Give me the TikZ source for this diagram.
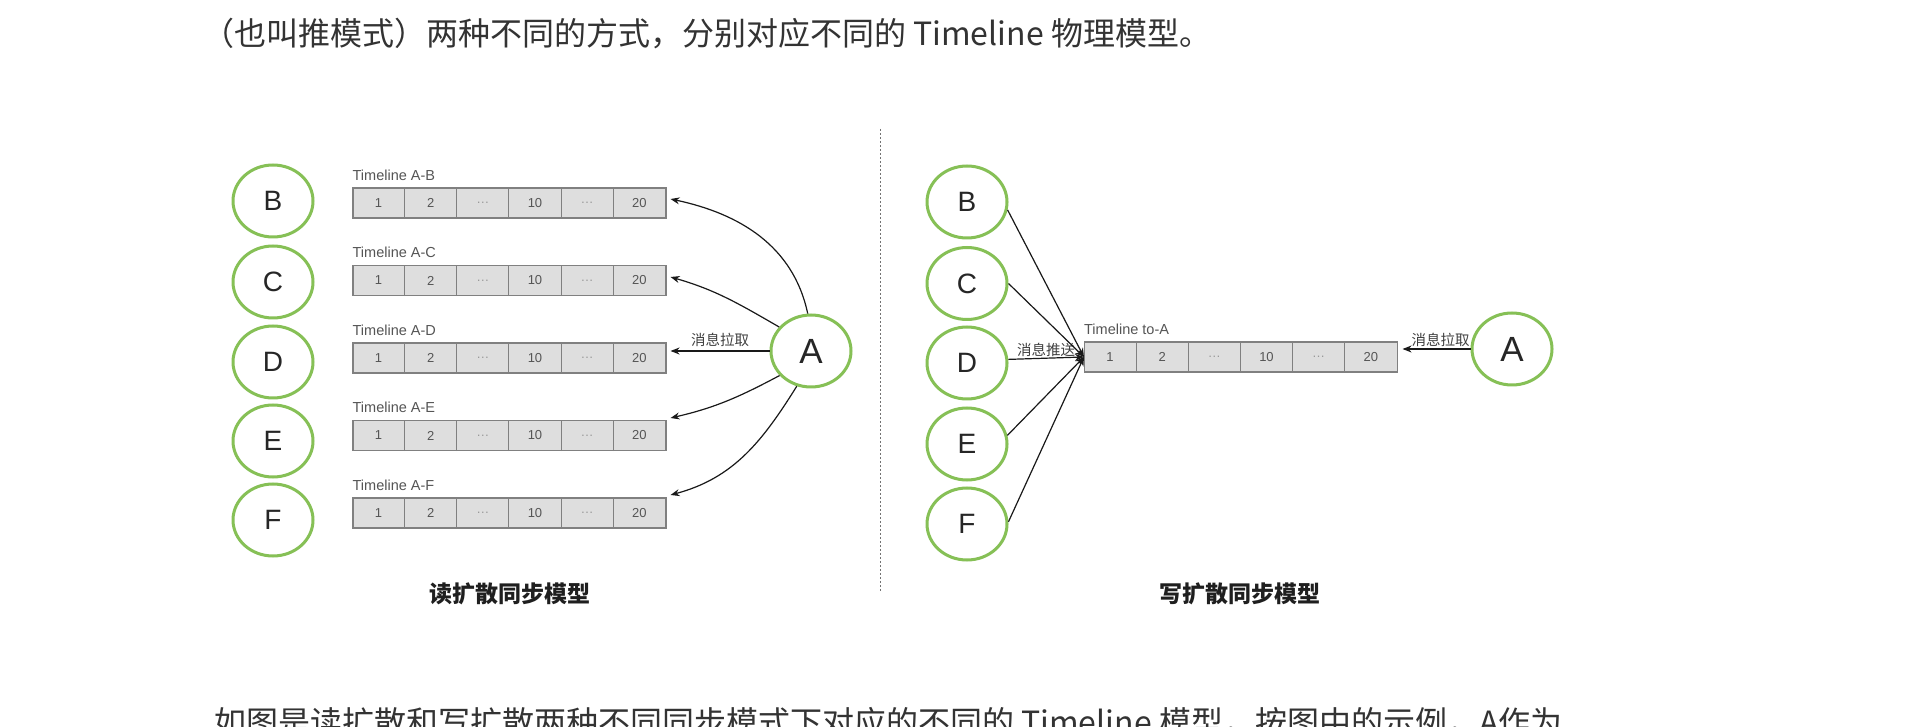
\documentclass[tikz,border=0pt]{standalone}
\usepackage{fontspec}
\setmainfont{Liberation Sans}
\newfontfamily\cjk{Noto Sans CJK SC}
\usetikzlibrary{arrows.meta,calc,shapes.geometric}
\definecolor{ringgreen}{RGB}{134,192,86}
\definecolor{cellfill}{RGB}{222,222,222}
\definecolor{celledge}{RGB}{128,128,128}
\definecolor{celltxt}{RGB}{85,85,85}
\definecolor{bodytxt}{RGB}{51,51,51}
\newcommand\timeline[4]{%
  \node[tlbox] (#1) at (#2,#3) {};
  \foreach \i/\t in {1/1,2/2,3/{\color{gray!80}…},4/10,5/{\color{gray!80}…},6/20}{
    \node[celltext] (#1-\i) at ($(#1.west)+({(\i-0.5)*52.15},0)$) {\t};
  }
  \foreach \i in {1,...,5}{
    \draw[celldiv] ($(#1.south west)+({\i*52.15},0)$) -- ($(#1.north west)+({\i*52.15},0)$);
  }
  \node[tllabel] (#1-lab) at ($(#1.north west)+(0,7)$) {#4};
}
\begin{document}
\begin{tikzpicture}[x=1pt,y=1pt,
  ring/.style={ellipse, draw=ringgreen, line width=3pt, fill=white,
    minimum width=80pt, minimum height=72pt, inner sep=0pt,
    font=\fontsize{28}{30}\selectfont, text=black!85},
  bigring/.style={ring, font=\fontsize{35}{38}\selectfont},
  tlbox/.style={draw=celledge, fill=cellfill, line width=1.1pt,
    minimum width=313pt, minimum height=30pt, inner sep=0pt},
  celltext/.style={font=\fontsize{13}{15}\selectfont, text=celltxt, inner sep=0pt},
  celldiv/.style={draw=celledge, line width=1.1pt},
  tllabel/.style={anchor=base west, inner sep=0pt, font=\fontsize{14.5}{16}\selectfont, text=celltxt},
  arr/.style={draw=black!90, line width=1.2pt, -{Stealth[length=9pt,width=7pt]}},
  msg/.style={anchor=base, inner sep=0pt, font=\cjk\fontsize{14.5}{16}\selectfont, text=black!75},
  title/.style={inner sep=0pt, font=\cjk\bfseries\fontsize{23}{25}\selectfont, text=black!88},
  body/.style={anchor=base west, inner sep=0pt, font=\cjk\fontsize{32}{38}\selectfont, text=bodytxt},
  sep/.style={draw=black!55, line width=0.9pt, dash pattern=on 2pt off 2pt}
]
\clip (0,0) rectangle (1922,726);
\fill[white] (0,0) rectangle (1922,726);

% body text
\node[body] (toptext) at (202,680) {（也叫推模式）两种不同的方式，分别对应不同的 Timeline 物理模型。};
\node[body] (bottext) at (214,-8.5) {如图是读扩散和写扩散两种不同同步模式下对应的不同的 Timeline 模型，按图中的示例，A作为};

% separator
\coordinate (dtop) at (880,597);
\coordinate (dbot) at (880,134);
\draw[sep] (dtop) -- (dbot);

% ---------- left: read diffusion ----------
\node[ring] (lB) at (273,525) {B};
\node[ring] (lC) at (273,444) {C};
\node[ring] (lD) at (273,364) {D};
\node[ring] (lE) at (273,285) {E};
\node[ring] (lF) at (273,206) {F};
\node[bigring] (lA) at (811,375) {A};

\timeline{bB}{509.5}{523}{Timeline A-B}
\timeline{bC}{509.5}{445.5}{Timeline A-C}
\timeline{bD}{509.5}{368}{Timeline A-D}
\timeline{bE}{509.5}{290.5}{Timeline A-E}
\timeline{bF}{509.5}{213}{Timeline A-F}

\coordinate (tB) at ($(bB.east)+(4,4)$);
\coordinate (tC) at ($(bC.east)+(4,3.5)$);
\coordinate (tD) at ($(bD.east)+(4,7)$);
\coordinate (tE) at ($(bE.east)+(4,17.5)$);
\coordinate (tF) at ($(bF.east)+(4,18)$);

\draw[arr] (lA.95) to[out=102,in=-12] (tB);
\draw[arr] (lA.143) to[out=150,in=-16] (tC);
\draw[arr] (lA.west) -- (tD);
\draw[arr] (lA.218) to[out=208,in=13] (tE);
\draw[arr] (lA.248) to[out=238,in=15] (tF);
\node[msg] (lmsg) at ($(lA.west)!0.5!(tD)+(0,5)$) {消息拉取};

\node[title] (ltitle) at (510,132) {读扩散同步模型};

% ---------- right: write diffusion ----------
\node[ring] (rB) at (967,524) {B};
\node[ring] (rC) at (967,442.5) {C};
\node[ring] (rD) at (967,363) {D};
\node[ring] (rE) at (967,282) {E};
\node[ring] (rF) at (967,202) {F};
\node[bigring] (rA) at (1512,377) {A};

\timeline{tA}{1241}{369}{Timeline to-A}

\node[msg] (rpush) at ($(rD.east)!0.5!(tA.west)+(0,4.5)$) {消息推送};
\draw[arr] (rB.-11) -- (tA.west);
\draw[arr] (rC.east) -- (tA.west);
\draw[arr] (rD.5) -- (tA.west);
\draw[arr] (rE.12) -- (tA.west);
\draw[arr] (rF.3) -- (tA.west);

\coordinate (tR) at ($(tA.east)+(4.5,8)$);
\draw[arr] (rA.west) -- (tR);
\node[msg] (rmsg) at ($(rA.west)!0.5!(tR)+(4,3.5)$) {消息拉取};

\node[title] (rtitle) at (1240,132) {写扩散同步模型};
\end{tikzpicture}
\end{document}
